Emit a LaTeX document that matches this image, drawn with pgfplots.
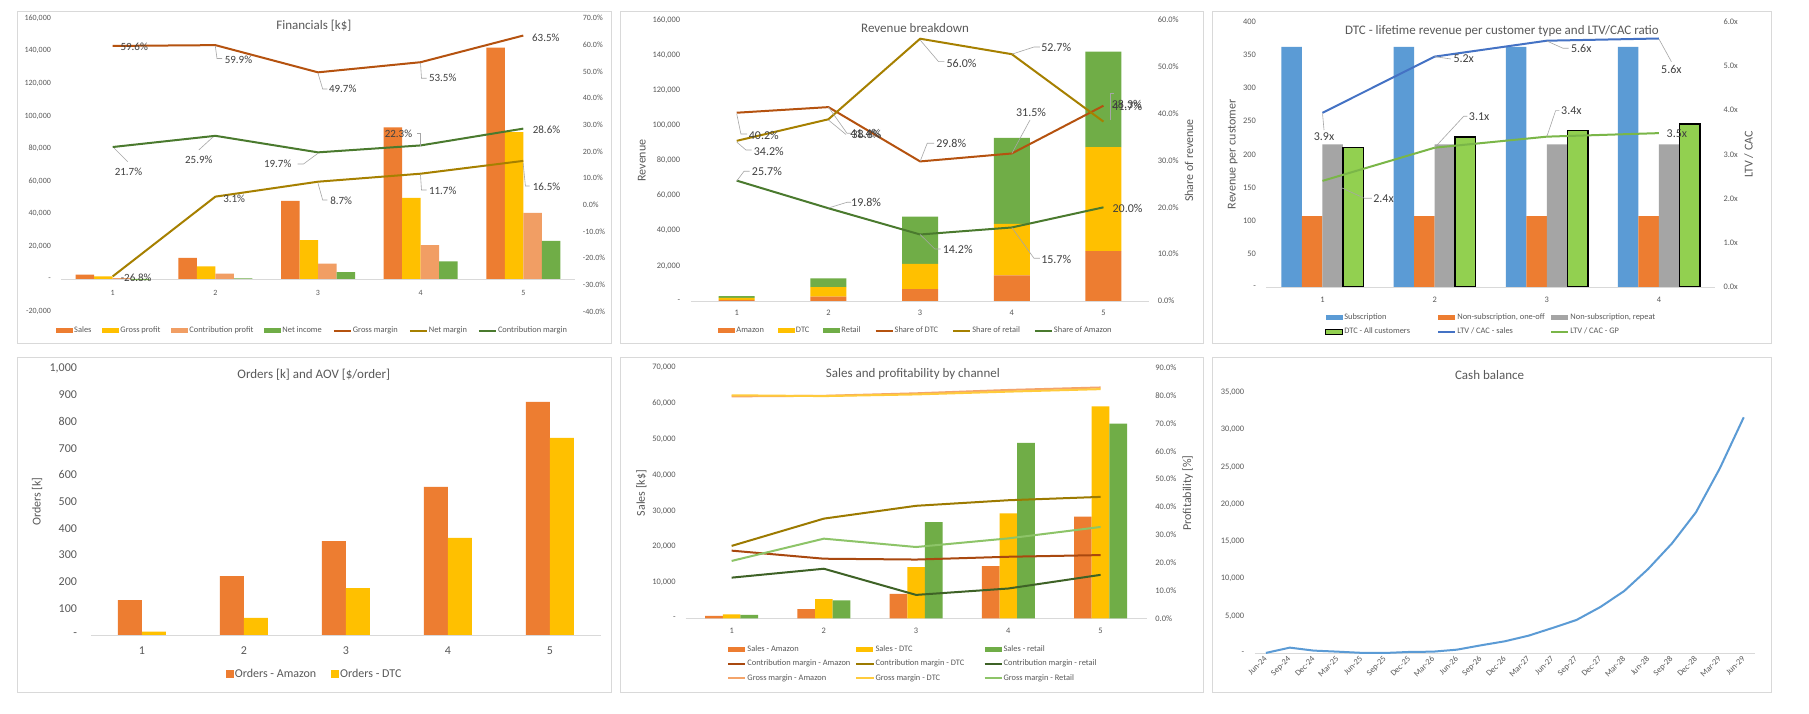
\documentclass[border=0pt]{standalone}
\usepackage{pgfplots}
\pgfplotsset{compat=1.18}
\usepackage{fontspec}
\setmainfont{Carlito}
\definecolor{cOr}{HTML}{ED7D31}
\definecolor{cGo}{HTML}{FFC000}
\definecolor{cLo}{HTML}{F19E64}
\definecolor{cGr}{HTML}{70AD47}
\definecolor{cDo}{HTML}{B5520F}
\definecolor{cDg}{HTML}{A68000}
\definecolor{cDgr}{HTML}{4A7A2E}
\definecolor{cBl}{HTML}{5B9BD5}
\definecolor{cBl2}{HTML}{4472C4}
\definecolor{cGy}{HTML}{A5A5A5}
\definecolor{cLg}{HTML}{92D050}
\definecolor{cGp}{HTML}{7AB648}
\definecolor{cmA}{HTML}{A9480F}
\definecolor{cmD}{HTML}{9C7A00}
\definecolor{cmR}{HTML}{3E6226}
\definecolor{gmA}{HTML}{F4A46A}
\definecolor{gmD}{HTML}{FFCB3C}
\definecolor{gmR}{HTML}{8DC468}
\definecolor{txt}{HTML}{595959}
\definecolor{lbl}{HTML}{404040}
\definecolor{bord}{HTML}{D9D9D9}
\definecolor{leadc}{HTML}{A6A6A6}
\definecolor{axl}{HTML}{D9D9D9}

\pgfplotsset{
  basestyle/.style={scale only axis, anchor=south west,
    scaled x ticks=false, scaled y ticks=false,
    /pgf/number format/assume math mode=true,
    tick style={draw=none}, major tick length=0pt,
    tick label style={font=\fontsize{8.4}{10}\selectfont, text=txt},
    y axis line style={draw=none},
    x axis line style={draw=axl, line width=0.8pt},
    title style={font=\fontsize{13}{15}\selectfont, text=txt, anchor=center, yshift=-8pt},
    ylabel style={font=\fontsize{12}{14}\selectfont, text=txt, anchor=center},
    legend style={draw=none, fill=none, font=\fontsize{8.4}{10}\selectfont, text=txt, inner sep=0pt, outer sep=0pt, nodes={inner sep=1pt, text=txt}},
    legend cell align=left,
  },
  axL/.style={basestyle, axis x line*=bottom, axis y line*=left},
  axR/.style={basestyle, axis x line=none, axis y line*=right},
  barleg/.style={legend image code/.code={\fill[##1] (0pt,-2.4pt) rectangle (17pt,2.4pt);}},
  sqleg/.style={legend image code/.code={\fill[##1] (0pt,-4pt) rectangle (8pt,4pt);}},
  ln/.style={mark=none, line width=2pt, line join=round},
}

\begin{document}
\begin{tikzpicture}
\fill[white] (0,0) rectangle (1809pt,714pt);
\begin{scope}[x=1pt,y=-1pt,yshift=714pt]
\draw[bord, line width=0.8pt] (17.3,11.5) rectangle (611.5,343.8);
\draw[bord, line width=0.8pt] (620.7,11.5) rectangle (1203.3,343.8);
\draw[bord, line width=0.8pt] (1212.5,11.5) rectangle (1771,343.8);
\draw[bord, line width=0.8pt] (17.3,357.6) rectangle (611.5,692.2);
\draw[bord, line width=0.8pt] (620.7,357.6) rectangle (1203.3,692.2);
\draw[bord, line width=0.8pt] (1212.5,357.6) rectangle (1771,692.2);
\end{scope}

%================ Panel 1: Financials =================
\begin{axis}[axL, at={(61.4pt,402.4pt)}, width=513.2pt, height=293.4pt,
  xmin=0.5, xmax=5.5, ymin=-20000, ymax=160000,
  x axis line style={draw=none},
  xtick={1,2,3,4,5},
  xticklabel style={yshift=24.5pt},
  ytick={-20000,0,20000,40000,60000,80000,100000,120000,140000,160000},
  yticklabels={{-20,000},{-},{20,000},{40,000},{60,000},{80,000},{100,000},{120,000},{140,000},{160,000}},
  yticklabel style={xshift=-7pt},
  tick label style={font=\fontsize{8}{10}\selectfont},
  extra y ticks={0}, extra y tick labels={},
  extra y tick style={grid=major, major grid style={draw=axl, line width=0.8pt}},
  ybar=0pt, bar width=18.5pt,
  title={Financials [k\$]}, title style={at={(axis description cs:0.492,0.98)}},
]
\addplot[fill=cOr, draw=none] coordinates {(1,2700)(2,12900)(3,48000)(4,93000)(5,142000)};
\addplot[fill=cGo, draw=none] coordinates {(1,1610)(2,7730)(3,23860)(4,49760)(5,90170)};
\addplot[fill=cLo, draw=none] coordinates {(1,586)(2,3340)(3,9460)(4,20740)(5,40610)};
\addplot[fill=cGr, draw=none] coordinates {(1,-724)(2,400)(3,4180)(4,10880)(5,23430)};
\end{axis}
\begin{axis}[axR, at={(61.4pt,402.4pt)}, width=513.2pt, height=293.4pt,
  xmin=0.5, xmax=5.5, ymin=-40, ymax=70,
  ytick={-40,-30,-20,-10,0,10,20,30,40,50,60,70},
  yticklabels={{-40.0\%},{-30.0\%},{-20.0\%},{-10.0\%},{0.0\%},{10.0\%},{20.0\%},{30.0\%},{40.0\%},{50.0\%},{60.0\%},{70.0\%}},
  yticklabel style={xshift=4.7pt},
  tick label style={font=\fontsize{8}{10}\selectfont},
  legend columns=7,
  legend style={at={(-0.0101,-0.065)}, anchor=west, /tikz/every even column/.append style={column sep=10pt}},
]
\addlegendimage{barleg, fill=cOr, draw=none}\addlegendentry{Sales}
\addlegendimage{barleg, fill=cGo, draw=none}\addlegendentry{Gross profit}
\addlegendimage{barleg, fill=cLo, draw=none}\addlegendentry{Contribution profit}
\addlegendimage{barleg, fill=cGr, draw=none}\addlegendentry{Net income}
\addplot[ln, cDo] coordinates {(1,59.6)(2,59.9)(3,49.7)(4,53.5)(5,63.5)};
\addlegendentry{Gross margin}
\addplot[ln, cDg] coordinates {(1,-26.8)(2,3.1)(3,8.7)(4,11.7)(5,16.5)};
\addlegendentry{Net margin}
\addplot[ln, cDgr] coordinates {(1,21.7)(2,25.9)(3,19.7)(4,22.3)(5,28.6)};
\addlegendentry{Contribution margin}
\end{axis}

%================ Panel 2: Revenue breakdown =================
\begin{axis}[axL, at={(690.9pt,413pt)}, width=458.4pt, height=281pt,
  xmin=0.5, xmax=5.5, ymin=0, ymax=160000,
  xtick={1,2,3,4,5},
  xticklabel style={yshift=-5.5pt},
  ytick={0,20000,40000,60000,80000,100000,120000,140000,160000},
  yticklabels={{-},{20,000},{40,000},{60,000},{80,000},{100,000},{120,000},{140,000},{160,000}},
  yticklabel style={xshift=-7.2pt},
  ylabel={Revenue}, ylabel style={at={(axis description cs:-0.107,0.5)}},
  ybar stacked, bar width=36pt,
  title={Revenue breakdown}, title style={at={(axis description cs:0.489,0.979)}},
]
\addplot[fill=cOr, draw=none] coordinates {(1,694)(2,2554)(3,6816)(4,14601)(5,28400)};
\addplot[fill=cGo, draw=none] coordinates {(1,1085)(2,5341)(3,14304)(4,29295)(5,59214)};
\addplot[fill=cGr, draw=none] coordinates {(1,923)(2,5005)(3,26880)(4,49011)(5,54386)};
\end{axis}
\begin{axis}[axR, at={(690.9pt,413pt)}, width=458.4pt, height=281pt,
  xmin=0.5, xmax=5.5, ymin=0, ymax=60,
  ytick={0,10,20,30,40,50,60},
  yticklabels={{0.0\%},{10.0\%},{20.0\%},{30.0\%},{40.0\%},{50.0\%},{60.0\%}},
  yticklabel style={xshift=5pt},
  ylabel={Share of revenue}, ylabel style={at={(axis description cs:1.0866,0.5)}},
  legend columns=6,
  legend style={at={(0.06,-0.1057)}, anchor=west, /tikz/every even column/.append style={column sep=13pt}},
]
\addlegendimage{barleg, fill=cOr, draw=none}\addlegendentry{Amazon}
\addlegendimage{barleg, fill=cGo, draw=none}\addlegendentry{DTC}
\addlegendimage{barleg, fill=cGr, draw=none}\addlegendentry{Retail}
\addplot[ln, cDo] coordinates {(1,40.2)(2,41.4)(3,29.8)(4,31.5)(5,41.7)};
\addlegendentry{Share of DTC}
\addplot[ln, cDg] coordinates {(1,34.2)(2,38.8)(3,56.0)(4,52.7)(5,38.3)};
\addlegendentry{Share of retail}
\addplot[ln, cDgr] coordinates {(1,25.7)(2,19.8)(3,14.2)(4,15.7)(5,20.0)};
\addlegendentry{Share of Amazon}
\end{axis}

%================ Panel 3: DTC lifetime revenue =================
\begin{axis}[axL, at={(1266.4pt,427pt)}, width=448.6pt, height=265.3pt,
  xmin=0.5, xmax=4.5, ymin=0, ymax=400,
  xtick={1,2,3,4},
  xticklabel style={yshift=-6.2pt},
  ytick={0,50,100,150,200,250,300,350,400},
  yticklabels={{-},{50},{100},{150},{200},{250},{300},{350},{400}},
  yticklabel style={xshift=-7pt},
  ylabel={Revenue per customer}, ylabel style={at={(axis description cs:-0.075,0.5)}},
  ybar=0pt, bar width=20.5pt,
  title={DTC - lifetime revenue per customer type and LTV/CAC ratio}, title style={at={(axis description cs:0.525,0.972)}},
]
\addplot[fill=cBl, draw=none] coordinates {(1,362)(2,362)(3,362)(4,362)};
\addplot[fill=cOr, draw=none] coordinates {(1,107)(2,107)(3,107)(4,107)};
\addplot[fill=cGy, draw=none] coordinates {(1,215)(2,215)(3,215)(4,215)};
\addplot[fill=cLg, draw=black, line width=1.5pt] coordinates {(1,210)(2,226)(3,236)(4,246)};
\end{axis}
\begin{axis}[axR, at={(1266.4pt,427pt)}, width=448.6pt, height=265.3pt,
  xmin=0.5, xmax=4.5, ymin=0, ymax=6,
  ytick={0,1,2,3,4,5,6},
  yticklabels={{0.0x},{1.0x},{2.0x},{3.0x},{4.0x},{5.0x},{6.0x}},
  yticklabel style={xshift=5pt},
  ylabel={LTV / CAC}, ylabel style={at={(axis description cs:1.075,0.5)}},
  legend columns=3,
  legend style={at={(0.1306,-0.142)}, anchor=west, /tikz/every even column/.append style={column sep=0pt}, row sep=5pt},
]
\addlegendimage{barleg, fill=cBl, draw=none}\addlegendentry{\makebox[92pt][l]{Subscription}}
\addlegendimage{barleg, fill=cOr, draw=none}\addlegendentry{\makebox[92pt][l]{Non-subscription, one-off}}
\addlegendimage{barleg, fill=cGy, draw=none}\addlegendentry{\makebox[92pt][l]{Non-subscription, repeat}}
\addlegendimage{barleg, fill=cLg, draw=black, line width=1.3pt}\addlegendentry{\makebox[92pt][l]{DTC - All customers}}
\addplot[ln, cBl2] coordinates {(1,3.94)(2,5.21)(3,5.57)(4,5.62)};
\addlegendentry{\makebox[92pt][l]{LTV / CAC - sales}}
\addplot[ln, cGp] coordinates {(1,2.40)(2,3.15)(3,3.40)(4,3.48)};
\addlegendentry{\makebox[92pt][l]{LTV / CAC - GP}}
\end{axis}

%================ Panel 4: Orders =================
\begin{axis}[axL, at={(90.9pt,79pt)}, width=510.1pt, height=266.7pt,
  xmin=0.5, xmax=5.5, ymin=0, ymax=1000,
  xtick={1,2,3,4,5},
  tick label style={font=\fontsize{12}{14}\selectfont},
  xticklabel style={yshift=-8pt},
  ytick={0,100,200,300,400,500,600,700,800,900,1000},
  yticklabels={{-},{100},{200},{300},{400},{500},{600},{700},{800},{900},{1,000}},
  yticklabel style={xshift=-10.4pt},
  ylabel={Orders [k]}, ylabel style={at={(axis description cs:-0.1057,0.5)}},
  ybar=0pt, bar width=24pt,
  title={Orders [k] and AOV [\$/order]}, title style={at={(axis description cs:0.437,0.985)}},
  legend columns=2,
  legend style={at={(0.2645,-0.1474)}, anchor=west, font=\fontsize{12}{14}\selectfont, /tikz/every even column/.append style={column sep=14pt}},
]
\addplot[fill=cOr, draw=none, sqleg] coordinates {(1,131)(2,221)(3,352)(4,555)(5,874)};
\addlegendentry{Orders - Amazon}
\addplot[fill=cGo, draw=none, sqleg] coordinates {(1,12.5)(2,64)(3,176)(4,364)(5,739)};
\addlegendentry{Orders - DTC}
\end{axis}

%================ Panel 5: Sales and profitability by channel =================
\begin{axis}[axL, at={(685.5pt,95.7pt)}, width=461.2pt, height=250.6pt,
  xmin=0.5, xmax=5.5, ymin=0, ymax=70000,
  xtick={1,2,3,4,5},
  xticklabel style={yshift=-6pt},
  ytick={0,10000,20000,30000,40000,50000,60000,70000},
  yticklabels={{-},{10,000},{20,000},{30,000},{40,000},{50,000},{60,000},{70,000}},
  yticklabel style={xshift=-6.3pt},
  ylabel={Sales [k\$]}, ylabel style={at={(axis description cs:-0.0956,0.5)}},
  ybar=0pt, bar width=17.7pt,
  title={Sales and profitability by channel}, title style={at={(axis description cs:0.493,0.984)}},
]
\addplot[fill=cOr, draw=none] coordinates {(1,694)(2,2554)(3,6816)(4,14601)(5,28400)};
\addplot[fill=cGo, draw=none] coordinates {(1,1085)(2,5341)(3,14304)(4,29295)(5,59214)};
\addplot[fill=cGr, draw=none] coordinates {(1,923)(2,5005)(3,26880)(4,49011)(5,54386)};
\end{axis}
\begin{axis}[axR, at={(685.5pt,95.7pt)}, width=461.2pt, height=250.6pt,
  xmin=0.5, xmax=5.5, ymin=0, ymax=90,
  ytick={0,10,20,30,40,50,60,70,80,90},
  yticklabels={{0.0\%},{10.0\%},{20.0\%},{30.0\%},{40.0\%},{50.0\%},{60.0\%},{70.0\%},{80.0\%},{90.0\%}},
  yticklabel style={xshift=5.2pt},
  ylabel={Profitability [\%]}, ylabel style={at={(axis description cs:1.089,0.5)}},
  legend columns=3,
  legend style={at={(0.0908,-0.181)}, anchor=west, /tikz/every even column/.append style={column sep=0pt}, row sep=5pt},
]
\addlegendimage{barleg, fill=cOr, draw=none}\addlegendentry{\makebox[107pt][l]{Sales - Amazon}}
\addlegendimage{barleg, fill=cGo, draw=none}\addlegendentry{\makebox[107pt][l]{Sales - DTC}}
\addlegendimage{barleg, fill=cGr, draw=none}\addlegendentry{\makebox[107pt][l]{Sales - retail}}
\addplot[ln, cmA] coordinates {(1,24.3)(2,21.4)(3,21.1)(4,22.1)(5,22.7)};
\addlegendentry{\makebox[107pt][l]{Contribution margin - Amazon}}
\addplot[ln, cmD] coordinates {(1,26.0)(2,35.8)(3,40.4)(4,42.4)(5,43.6)};
\addlegendentry{\makebox[107pt][l]{Contribution margin - DTC}}
\addplot[ln, cmR] coordinates {(1,14.6)(2,17.8)(3,8.4)(4,10.7)(5,15.6)};
\addlegendentry{\makebox[107pt][l]{Contribution margin - retail}}
\addplot[ln, gmA] coordinates {(1,79.7)(2,79.9)(3,80.8)(4,82.0)(5,82.9)};
\addlegendentry{\makebox[107pt][l]{Gross margin - Amazon}}
\addplot[ln, gmD] coordinates {(1,80.1)(2,79.8)(3,80.4)(4,81.4)(5,82.3)};
\addlegendentry{\makebox[107pt][l]{Gross margin - DTC}}
\addplot[ln, gmR] coordinates {(1,20.6)(2,28.6)(3,25.6)(4,28.7)(5,32.8)};
\addlegendentry{\makebox[107pt][l]{Gross margin - Retail}}
\end{axis}

%================ Panel 6: Cash balance =================
\begin{axis}[axL, at={(1254.9pt,60.7pt)}, width=500.3pt, height=261pt,
  xmin=-0.46, xmax=20.48, ymin=0, ymax=35000,
  xtick={0,1,...,20},
  xticklabels={Jun-24,Sep-24,Dec-24,Mar-25,Jun-25,Sep-25,Dec-25,Mar-26,Jun-26,Sep-26,Dec-26,Mar-27,Jun-27,Sep-27,Dec-27,Mar-28,Jun-28,Sep-28,Dec-28,Mar-29,Jun-29},
  xticklabel style={rotate=45, anchor=east, yshift=-3pt},
  ytick={0,5000,10000,15000,20000,25000,30000,35000},
  yticklabels={{-},{5,000},{10,000},{15,000},{20,000},{25,000},{30,000},{35,000}},
  yticklabel style={xshift=-7.2pt},
  title={Cash balance}, title style={at={(axis description cs:0.469,1.073)}},
]
\addplot[ln, cBl] coordinates {(0,50)(1,760)(2,360)(3,220)(4,60)(5,45)(6,180)(7,220)(8,490)(9,1070)(10,1610)(11,2370)(12,3400)(13,4470)(14,6210)(15,8360)(16,11310)(17,14750)(18,18910)(19,24810)(20,31650)};
\end{axis}

%================ Data labels and leader lines =================
\begin{scope}[x=1pt,y=-1pt,yshift=714pt]
\tikzset{lb/.style={font=\fontsize{11}{13}\selectfont, text=lbl, inner sep=0pt},
         lb2/.style={font=\fontsize{12}{14}\selectfont, text=lbl, inner sep=0pt},
         ld/.style={draw=leadc, line width=0.6pt}}
% Panel 1
\draw[ld] (215.3,46) -- (217,58.5) -- (222,58.5);
\draw[ld] (318,73.3) -- (322.7,89) -- (327.3,89);
\draw[ld] (420.5,63) -- (421.5,78.3) -- (426.5,78.3);
\draw[ld] (114,148) -- (127.7,161.7);
\draw[ld] (213,137) -- (198.8,150);
\draw[ld] (318,153.3) -- (303.5,164) -- (297.7,164);
\draw[ld] (420.5,146) -- (420.5,133.3) -- (416.9,133.3);
\draw[ld] (318,183.3) -- (322.7,200) -- (327.3,200);
\draw[ld] (420.5,175) -- (421.5,190) -- (426.5,190);
\draw[ld] (523.1,162.7) -- (525.4,186) -- (529.6,186);
\node[lb] at (134.2,47.3) {59.6\%};
\node[lb] at (238.5,60) {59.9\%};
\node[lb] at (342.7,89.3) {49.7\%};
\node[lb] at (442.7,78.3) {53.5\%};
\node[lb] at (545.8,37.7) {63.5\%};
\node[lb] at (128.5,172.3) {21.7\%};
\node[lb] at (198.8,160) {25.9\%};
\node[lb] at (277.7,164) {19.7\%};
\node[lb] at (398.5,134) {22.3\%};
\node[lb] at (546.5,130) {28.6\%};
\node[lb] at (136.2,277.3) {-26.8\%};
\node[lb] at (234.2,198.7) {3.1\%};
\node[lb] at (341.2,200.7) {8.7\%};
\node[lb] at (442.7,190.7) {11.7\%};
\node[lb] at (546.5,186.7) {16.5\%};
% Panel 2
\draw[ld] (736.7,113.7) -- (740.9,134) -- (747,134);
\draw[ld] (736.7,142) -- (745.9,150) -- (751.6,150);
\draw[ld] (736.7,181) -- (744,171.3) -- (749.7,171.3);
\draw[ld] (828.4,107) -- (847,133.3) -- (851.5,133.3);
\draw[ld] (828.4,120) -- (846,134.5);
\draw[ld] (828.4,208) -- (847,202.3) -- (851,202.3);
\draw[ld] (920.1,40) -- (938.6,61.7) -- (944.3,61.7);
\draw[ld] (920.1,161.4) -- (927.2,143.3) -- (934,143.3);
\draw[ld] (920.1,234.5) -- (934.8,249) -- (940.5,249);
\draw[ld] (1011.8,54.2) -- (1034,47) -- (1039.8,47);
\draw[ld] (1011.8,153.5) -- (1030,120);
\draw[ld] (1011.8,227.5) -- (1034,258.3) -- (1039.8,258.3);
\draw[ld] (1110.4,120) -- (1110.4,93.3) -- (1114,93.3);
\node[lb2] at (763.8,135.3) {40.2\%};
\node[lb2] at (768.8,151) {34.2\%};
\node[lb2] at (766.9,171.3) {25.7\%};
\node[lb2] at (865.3,133.3) {41.4\%};
\node[lb2] at (866.5,134.8) {38.8\%};
\node[lb2] at (866.1,202.3) {19.8\%};
\node[lb2] at (961.5,63.3) {56.0\%};
\node[lb2] at (951.2,143.3) {29.8\%};
\node[lb2] at (957.7,249) {14.2\%};
\node[lb2] at (1056.2,47) {52.7\%};
\node[lb2] at (1031,112) {31.5\%};
\node[lb2] at (1056.2,259) {15.7\%};
\node[lb2] at (1126.8,104.3) {38.3\%};
\node[lb2] at (1127.2,106.8) {41.7\%};
\node[lb2] at (1127.5,208) {20.0\%};
% Panel 3
\draw[ld] (1322.5,113.3) -- (1324,130);
\draw[ld] (1434.6,56.6) -- (1450.8,59);
\draw[ld] (1546.8,41) -- (1563,48.3) -- (1568.5,48.3);
\draw[ld] (1658.9,39) -- (1671.4,61.7);
\draw[ld] (1340.5,187.3) -- (1364.4,198.3) -- (1371.8,198.3);
\draw[ld] (1434.6,147.7) -- (1463.7,116.3) -- (1467.4,116.3);
\draw[ld] (1546.8,136.7) -- (1555.6,110.7) -- (1559.3,110.7);
\node[lb2] at (1324,137) {3.9x};
\node[lb2] at (1463.7,59) {5.2x};
\node[lb2] at (1581.3,48.3) {5.6x};
\node[lb2] at (1671.4,69.3) {5.6x};
\node[lb2] at (1383.5,198.3) {2.4x};
\node[lb2] at (1479.1,116.3) {3.1x};
\node[lb2] at (1571.4,110.7) {3.4x};
\node[lb2] at (1676.9,133.3) {3.5x};
\end{scope}
\end{tikzpicture}
\end{document}
